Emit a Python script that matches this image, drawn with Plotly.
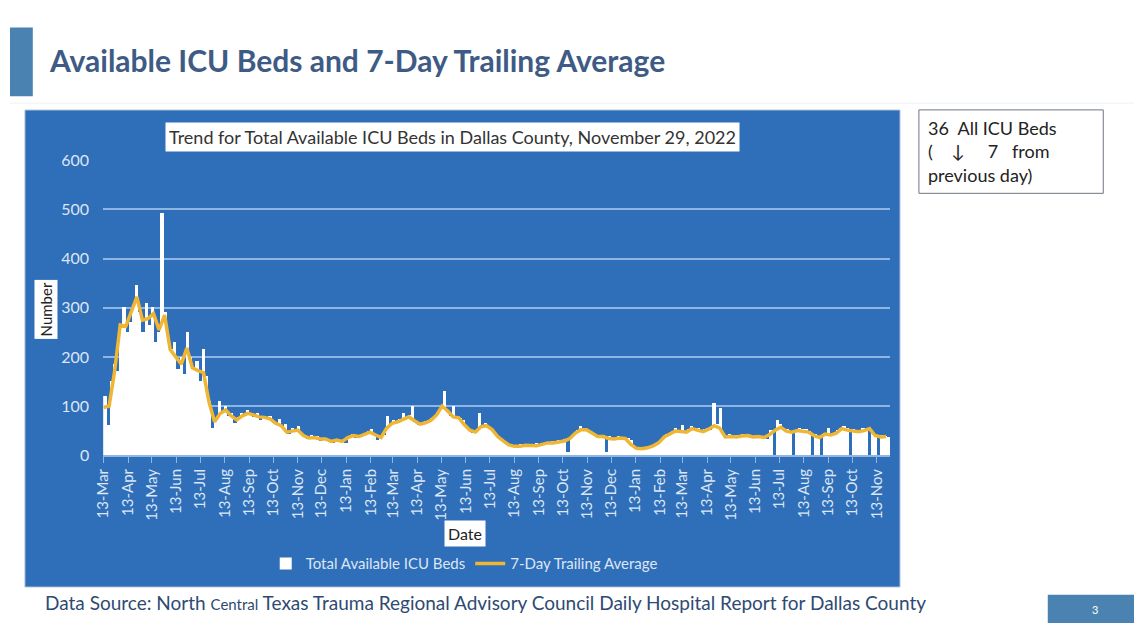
import pandas as pd
import plotly.graph_objects as go

# ---------------- data ----------------
bar_start = "2020-03-13"   # 4-day steps
bar_values = [
    120, 60, 150, 185, 170, 265, 300, 250, 270, 300, 345, 290, 250, 310, 265, 300,
    230, 250, 492, 290, 230, 215, 230, 175, 200, 165, 250, 200, 175, 190, 150, 215,
    160, 110, 55, 75, 110, 90, 100, 80, 85, 65, 78, 85, 80, 92, 85, 78,
    85, 70, 80, 72, 80, 65, 60, 72, 55, 62, 42, 55, 48, 58, 45, 38,
    32, 40, 35, 38, 28, 35, 32, 28, 25, 33, 26, 30, 25, 38, 42, 35,
    40, 37, 43, 48, 52, 40, 30, 38, 40, 80, 60, 70, 65, 72, 85, 75,
    82, 100, 68, 60, 62, 68, 70, 75, 80, 88, 95, 130, 90, 80, 100, 72,
    75, 70, 55, 52, 45, 48, 85, 55, 65, 58, 50, 45, 35, 32, 25, 22,
    20, 17, 19, 22, 18, 22, 20, 18, 24, 20, 22, 26, 24, 28, 25, 30,
    26, 32, 5, 35, 45, 50, 58, 55, 50, 48, 42, 40, 36, 40, 5, 38,
    32, 30, 38, 35, 34, 35, 30, 18, 12, 14, 10, 16, 14, 18, 22, 26,
    32, 42, 45, 48, 55, 50, 60, 45, 52, 58, 52, 55, 48, 52, 55, 50,
    106, 62, 95, 40, 35, 42, 38, 40, 36, 42, 38, 42, 35, 40, 38, 36,
    34, 32, 50, 0, 70, 62, 55, 52, 48, 0, 50, 55, 52, 52, 48, 0,
    42, 38, 0, 45, 55, 40, 40, 50, 55, 58, 55, 0, 52, 50, 48, 55,
    52, 0, 45, 38, 0, 40, 38, 36,
]

avg_start = "2020-03-13"   # weekly steps
avg_values = [
    97, 100, 172, 265, 262, 290, 322, 275, 278, 288, 255, 285, 215, 200, 185, 218,
    178, 172, 168, 108, 68, 85, 92, 80, 72, 80, 85, 82, 78, 77, 74, 65,
    60, 47, 49, 51, 40, 35, 36, 33, 33, 28, 31, 28, 36, 40, 38, 42,
    47, 41, 36, 55, 65, 68, 74, 78, 70, 63, 66, 71, 82, 100, 90, 78,
    76, 62, 51, 47, 58, 60, 52, 38, 29, 21, 18, 18, 20, 19, 19, 22,
    25, 25, 27, 29, 34, 45, 52, 52, 45, 38, 38, 34, 33, 35, 34, 22,
    14, 13, 15, 19, 25, 37, 43, 49, 48, 47, 54, 51, 48, 53, 60, 55,
    37, 38, 37, 39, 40, 37, 38, 36, 42, 51, 57, 49, 47, 50, 48, 47,
    40, 36, 43, 41, 45, 54, 51, 49, 48, 50, 54, 40, 37, 38,
]

y_ticks = [0, 100, 200, 300, 400, 500, 600]
month_ticks = pd.date_range("2020-03-01", "2022-11-01", freq="MS") + pd.Timedelta(days=12)
month_labels = [d.strftime("13-%b") for d in month_ticks]

bar_dates = pd.date_range(bar_start, periods=len(bar_values), freq="4D") + pd.Timedelta(days=2)
avg_dates = pd.date_range(avg_start, periods=len(avg_values), freq="7D")

# ---------------- styling ----------------
W, H = 1134, 632
PANEL = "#2F6EB9"
GRID = "#8FB6E3"
LIGHT = "#DCE6F4"
SLATE = "#3E5B85"
ACCENT = "#4A83B2"
FONT = "Lato"


def px(x):
    return x / W


def py(y):
    return 1 - y / H


fig = go.Figure()
fig.add_trace(go.Bar(
    x=bar_dates, y=bar_values, name="Total Available ICU Beds",
    marker=dict(color="white", line=dict(width=0)),
))
fig.add_trace(go.Scatter(
    x=avg_dates, y=avg_values, name="7-Day Trailing Average", mode="lines",
    line=dict(color="#EFB634", width=3.5),
))

fig.update_layout(
    width=W, height=H,
    margin=dict(l=0, r=0, t=0, b=0),
    paper_bgcolor="white",
    plot_bgcolor="rgba(0,0,0,0)",
    bargap=0,
    font=dict(family=FONT, color=LIGHT),
    showlegend=True,
    legend=dict(
        orientation="h", x=px(258), xanchor="left", y=py(571), yanchor="middle",
        font=dict(size=15, color=LIGHT, family=FONT), bgcolor="rgba(0,0,0,0)",
        itemwidth=30,
    ),
    xaxis=dict(
        domain=[px(94), px(888)],
        range=[pd.Timestamp("2020-03-12 12:00"), pd.Timestamp("2022-11-30 00:00")],
        tickvals=month_ticks, ticktext=month_labels, tickangle=-90,
        tickfont=dict(size=15, color=LIGHT, family=FONT),
        ticks="outside", ticklen=6, tickcolor=GRID, tickwidth=1,
        showline=True, linecolor=GRID, linewidth=1.5,
        showgrid=False, zeroline=False,
    ),
    yaxis=dict(
        domain=[py(459), py(155)],
        range=[0, 600],
        tickvals=y_ticks,
        tickfont=dict(size=16, color=LIGHT, family=FONT),
        ticklabelstandoff=13,
        showgrid=True, gridcolor=GRID, gridwidth=1.5,
        zeroline=False, showline=False,
    ),
)

shapes = [
    dict(type="rect", xref="paper", yref="paper", x0=0, x1=px(23), y0=py(89), y1=py(18),
         fillcolor=ACCENT, line=dict(width=0), layer="below"),
    dict(type="line", xref="paper", yref="paper", x0=0, x1=1, y0=py(96), y1=py(96),
         line=dict(color="#EEF1F5", width=1), layer="below"),
    dict(type="rect", xref="paper", yref="paper", x0=px(15), x1=px(898), y0=py(595), y1=py(103),
         fillcolor=PANEL, line=dict(color="#C9D3E0", width=1), layer="below"),
    dict(type="rect", xref="paper", yref="paper", x0=px(917), x1=px(1103), y0=py(189), y1=py(103),
         fillcolor="white", line=dict(color="#6F7780", width=1), layer="below"),
    dict(type="rect", xref="paper", yref="paper", x0=px(1047), x1=1, y0=0, y1=py(603),
         fillcolor=ACCENT, line=dict(width=0), layer="below"),
]
fig.update_layout(shapes=shapes)

P = dict(xref="paper", yref="paper", showarrow=False)
annotations = [
    dict(text="<b>Available ICU Beds and 7-Day Trailing Average</b>", x=px(37), y=py(52),
         xanchor="left", yanchor="middle",
         font=dict(size=30, color=SLATE, family=FONT), **P),
    dict(text="Trend for Total Available ICU Beds in Dallas County, November 29, 2022",
         x=px(446), y=py(131), xanchor="center", yanchor="middle",
         bgcolor="white", borderpad=3,
         font=dict(size=18, color="#333333", family=FONT), **P),
    dict(text="Number", x=px(36), y=py(309), xanchor="center", yanchor="middle",
         textangle=-90, bgcolor="white", borderpad=2,
         font=dict(size=15, color="#222222", family=FONT), **P),
    dict(text="Date", x=px(459), y=py(540), xanchor="center", yanchor="middle",
         bgcolor="white", borderpad=3,
         font=dict(size=16, color="#222222", family=FONT), **P),
    dict(text="36  All ICU Beds<br>(    ↓     7   from<br>previous day)",
         x=px(924), y=py(146), xanchor="left", yanchor="middle", align="left",
         font=dict(size=18, color="#222222", family=FONT), **P),
    dict(text="Data Source: North <span style='font-size:15px'>Central</span> Texas Trauma Regional "
              "Advisory Council Daily Hospital Report for Dallas County",
         x=px(33), y=py(611), xanchor="left", yanchor="middle",
         font=dict(size=19, color="#2E4A72", family=FONT), **P),
    dict(text="3", x=px(1095), y=py(618), xanchor="center", yanchor="middle",
         font=dict(size=11, color="white", family=FONT), **P),
]
fig.update_layout(annotations=annotations)

fig.write_html("out.html")
